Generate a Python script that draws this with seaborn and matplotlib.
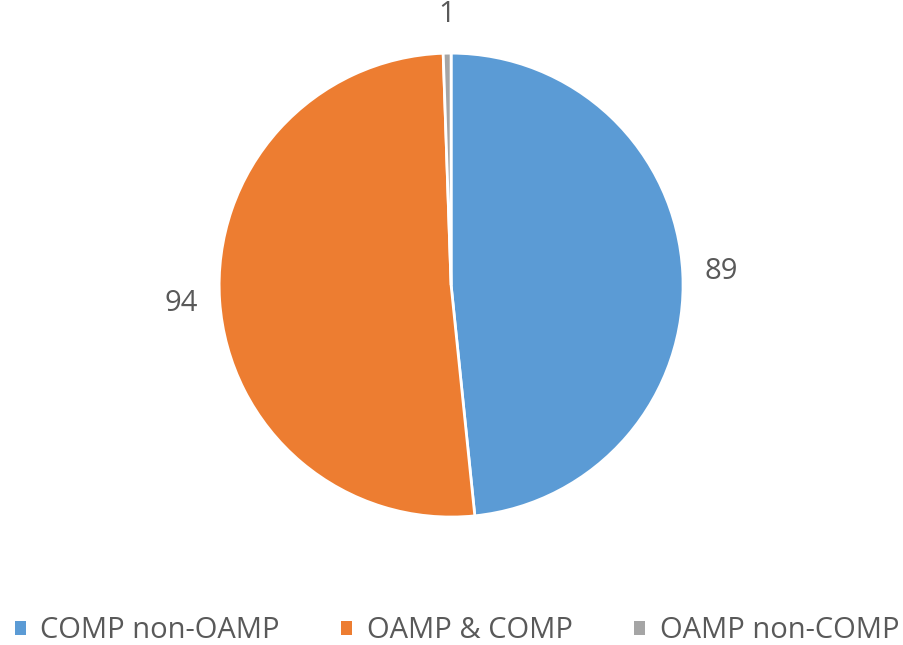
import matplotlib
matplotlib.use("Agg")
import matplotlib.pyplot as plt
from matplotlib.patches import Patch
import seaborn as sns

# Data
categories = ["COMP non-OAMP", "OAMP & COMP", "OAMP non-COMP"]
values = [89, 94, 1]
colors = ["#5B9BD5", "#ED7D31", "#A5A5A5"]

sns.set_theme(style="white")
plt.rcParams['font.family'] = ['Open Sans', 'DejaVu Sans']
text_color = "#595959"

fig = plt.figure(figsize=(9.04, 6.45), dpi=100)
ax = fig.add_axes([0.499 - 0.2566, 0.558 - 0.3597, 0.5132, 0.7194])

wedges, texts = ax.pie(values, colors=colors, startangle=90, counterclock=False,
                       labels=[str(v) for v in values], labeldistance=1.165,
                       wedgeprops=dict(edgecolor="white", linewidth=2),
                       textprops=dict(color=text_color, fontsize=21))
for t in texts:
    t.set_horizontalalignment("center")
    t.set_verticalalignment("center")
    t.set_clip_on(False)
ax.set_xlim(-1, 1)
ax.set_ylim(-1, 1)
ax.set_aspect("equal")
ax.axis("off")

handles = [Patch(facecolor=c, edgecolor="none") for c in colors]
fig.legend(handles, categories, loc="center", bbox_to_anchor=(457 / 904, 1 - 631 / 645),
           ncol=3, frameon=False, fontsize=21, labelcolor=text_color,
           handlelength=0.38, handleheight=0.38, handletextpad=0.5, columnspacing=2.1,
           borderpad=0)

fig.savefig("out.png", dpi=100)
